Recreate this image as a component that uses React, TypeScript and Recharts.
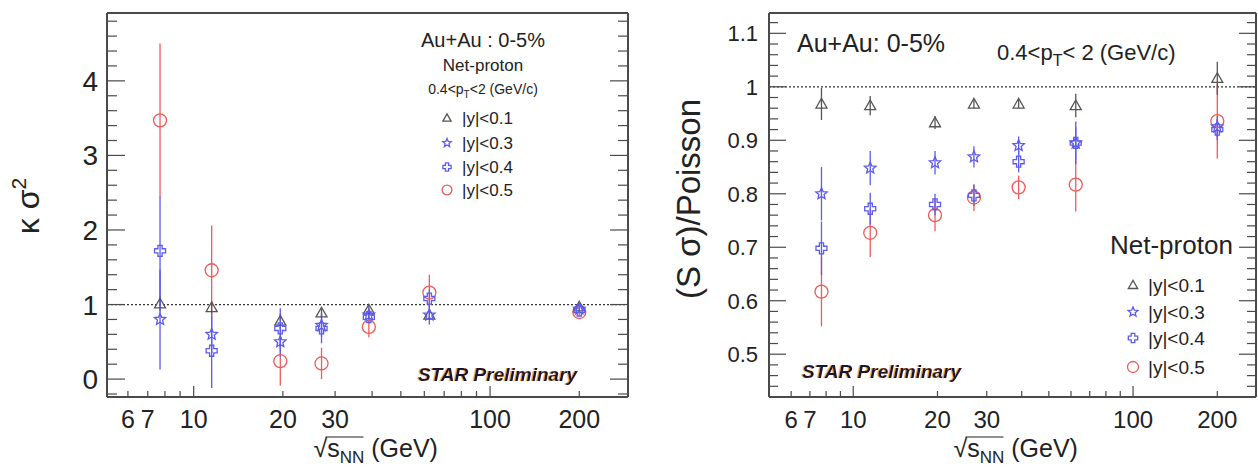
import React from "react";
import { ScatterChart, Scatter, XAxis, YAxis, ErrorBar, ReferenceLine } from "recharts";

const FONT = "'Liberation Sans', Arial, Helvetica, sans-serif";
const AXIS_COLOR = "#4a4a4a";
const TEXT_COLOR = "#222";
const GRAY = "#555";
const BLUE = "#5b5bf0";
const RED = "#f05a5a";

// collision energies, sqrt(s_NN) in GeV
const energies = [7.7, 11.5, 19.6, 27, 39, 62.4, 200];
const rapidityCuts = ["|y|<0.1", "|y|<0.3", "|y|<0.4", "|y|<0.5"];

// kappa*sigma^2 of net-proton, Au+Au 0-5%
const kappaY01 = [1.01, 0.96, 0.78, 0.89, 0.93, 0.86, 0.97];
const kappaY01Err = [0.1, 0.08, 0.1, 0.05, 0.05, 0.06, 0.03];
const kappaY03 = [0.8, 0.6, 0.5, 0.72, 0.86, 0.86, 0.94];
const kappaY03Err = [0.67, 0.25, 0.2, 0.15, 0.06, 0.13, 0.04];
const kappaY04 = [1.72, 0.38, 0.68, 0.68, 0.83, 1.08, 0.92];
const kappaY04Err = [0.73, 0.5, 0.27, 0.2, 0.08, 0.12, 0.04];
const kappaY05 = [3.47, 1.46, 0.24, 0.21, 0.7, 1.16, 0.9];
const kappaY05Err = [1.03, 0.6, 0.33, 0.21, 0.14, 0.24, 0.05];

// S*sigma normalised to the Poisson baseline
const ssY01 = [0.968, 0.965, 0.933, 0.968, 0.968, 0.965, 1.016];
const ssY01Err = [0.03, 0.018, 0.012, 0.008, 0.008, 0.022, 0.031];
const ssY03 = [0.8, 0.848, 0.858, 0.869, 0.89, 0.895, 0.925];
const ssY03Err = [0.05, 0.032, 0.022, 0.02, 0.017, 0.04, 0.02];
const ssY04 = [0.698, 0.772, 0.78, 0.797, 0.86, 0.895, 0.92];
const ssY04Err = [0.05, 0.03, 0.02, 0.02, 0.02, 0.03, 0.02];
const ssY05 = [0.617, 0.727, 0.76, 0.793, 0.812, 0.817, 0.936];
const ssY05Err = [0.065, 0.045, 0.03, 0.025, 0.022, 0.05, 0.07];

// axis ticks
const xTicks = [6, 7, 8, 9, 10, 20, 30, 40, 50, 60, 70, 80, 90, 100, 200];
const xLabels = [6, 7, 10, 20, 30, 100, 200];
const kappaLabels = [0, 1, 2, 3, 4];
const poissonLabels = [0.5, 0.6, 0.7, 0.8, 0.9, 1, 1.1];

function steps(from: number, to: number, step: number): number[] {
  const out: number[] = [];
  for (let v = from; v <= to + 1e-9; v += step) out.push(Math.round(v * 1000) / 1000);
  return out;
}
const kappaTicks = steps(-0.2, 4.8, 0.2);
const poissonTicks = steps(0.44, 1.12, 0.02);

const rows = (ys: number[], errs: number[]) =>
  energies.map((x, i) => ({ x, y: ys[i], err: errs[i] }));

type Kind = "triangle" | "star" | "cross" | "circle";
const kinds: Kind[] = ["triangle", "star", "cross", "circle"];
const colors = [GRAY, BLUE, BLUE, RED];
const markerSize: Record<Kind, number> = { triangle: 11, star: 12, cross: 11, circle: 13 };

function Marker({ kind, cx, cy, color, size }: { kind: Kind; cx: number; cy: number; color: string; size: number }) {
  const r = size / 2;
  const common = { fill: "none", stroke: color, strokeWidth: 1.3 };
  if (kind === "circle") return <circle cx={cx} cy={cy} r={r} {...common} />;
  if (kind === "triangle") {
    return <polygon points={`${cx},${cy - r} ${cx + r},${cy + r * 0.75} ${cx - r},${cy + r * 0.75}`} {...common} />;
  }
  if (kind === "star") {
    const pts: string[] = [];
    for (let i = 0; i < 10; i++) {
      const a = -Math.PI / 2 + (i * Math.PI) / 5;
      const rr = i % 2 === 0 ? r : r * 0.45;
      pts.push(`${cx + rr * Math.cos(a)},${cy + rr * Math.sin(a)}`);
    }
    return <polygon points={pts.join(" ")} {...common} />;
  }
  const a = r * 0.38;
  const pts = [
    [-a, -r], [a, -r], [a, -a], [r, -a], [r, a], [a, a],
    [a, r], [-a, r], [-a, a], [-r, a], [-r, -a], [-a, -a],
  ].map(([dx, dy]) => `${cx + dx},${cy + dy}`);
  return <polygon points={pts.join(" ")} {...common} />;
}

// ROOT-style frame ticks: everything points into the plot
const tickStroke = { stroke: AXIS_COLOR, strokeWidth: 1.2 };

function bottomTick(fontSize: number) {
  return (p: any) => {
    const v = p.payload.value;
    const major = v === 10 || v === 100;
    return (
      <g>
        <line x1={p.x} x2={p.x} y1={p.y} y2={p.y - (major ? 11 : 6)} {...tickStroke} />
        {xLabels.includes(v) && (
          <text x={p.x} y={p.y + 31} textAnchor="middle" fontSize={fontSize} fontFamily={FONT} fill={TEXT_COLOR}>
            {v}
          </text>
        )}
      </g>
    );
  };
}

function topTick(p: any) {
  const v = p.payload.value;
  const major = v === 10 || v === 100;
  return <line x1={p.x} x2={p.x} y1={p.y} y2={p.y + (major ? 11 : 6)} {...tickStroke} />;
}

function leftTick(labels: number[], fontSize: number, gap: number, major: number, minor: number) {
  return (p: any) => {
    const v = p.payload.value;
    const isMajor = labels.includes(v);
    return (
      <g>
        <line x1={p.x} x2={p.x + (isMajor ? major : minor)} y1={p.y} y2={p.y} {...tickStroke} />
        {isMajor && (
          <text x={p.x - gap} y={p.y + fontSize * 0.36} textAnchor="end" fontSize={fontSize} fontFamily={FONT} fill={TEXT_COLOR}>
            {v}
          </text>
        )}
      </g>
    );
  };
}

function rightTick(labels: number[], major: number, minor: number) {
  return (p: any) => {
    const isMajor = labels.includes(p.payload.value);
    return <line x1={p.x} x2={p.x - (isMajor ? major : minor)} y1={p.y} y2={p.y} {...tickStroke} />;
  };
}

function EnergyTitle(props: any) {
  const vb = props.viewBox ?? { x: 0, y: 0, width: 0 };
  const x = vb.x + vb.width / 2 + props.dx;
  const y = vb.y + 60;
  return (
    <g fontFamily={FONT} fill={TEXT_COLOR}>
      <text x={x} y={y} fontSize={25}>
        √s<tspan fontSize={17} dy={6}>NN</tspan>
        <tspan dy={-6}> (GeV)</tspan>
      </text>
      <line x1={x + 12} x2={x + 50} y1={y - 20} y2={y - 20} stroke={TEXT_COLOR} strokeWidth={1.2} />
    </g>
  );
}

function VerticalTitle(props: any) {
  const vb = props.viewBox ?? { x: 0, y: 0, height: 0 };
  const x = props.baseX;
  const y = vb.y + vb.height / 2 + props.dy;
  return (
    <text
      x={x}
      y={y}
      transform={`rotate(-90 ${x} ${y})`}
      textAnchor="middle"
      fontSize={props.fontSize}
      fontFamily={FONT}
      fill={TEXT_COLOR}
    >
      {props.children}
    </text>
  );
}

const frameLine = { stroke: AXIS_COLOR, strokeWidth: 2 };

type Series = { name: string; kind: Kind; color: string; data: { x: number; y: number; err: number }[] };

function makeSeries(sets: [number[], number[]][]): Series[] {
  const list = sets.map(([ys, errs], i) => ({
    name: rapidityCuts[i],
    kind: kinds[i],
    color: colors[i],
    data: rows(ys, errs),
  }));
  // widest cut underneath, blue points on top
  return [list[3], list[0], list[1], list[2]];
}

const kappaSeries = makeSeries([
  [kappaY01, kappaY01Err],
  [kappaY03, kappaY03Err],
  [kappaY04, kappaY04Err],
  [kappaY05, kappaY05Err],
]);
const poissonSeries = makeSeries([
  [ssY01, ssY01Err],
  [ssY03, ssY03Err],
  [ssY04, ssY04Err],
  [ssY05, ssY05Err],
]);

function renderSeries(series: Series[]) {
  return series.map((s) => (
    <Scatter
      key={s.name}
      name={s.name}
      data={s.data}
      dataKey="y"
      isAnimationActive={false}
      shape={(p: any) => <Marker kind={s.kind} cx={p.cx} cy={p.cy} color={s.color} size={markerSize[s.kind]} />}
    >
      <ErrorBar dataKey="err" direction="y" width={0} stroke={s.color} strokeWidth={1.3} />
    </Scatter>
  ));
}

function KappaPanel() {
  const xDomain = [5.1, 292];
  return (
    <ScatterChart width={640} height={468} margin={{ top: 0, right: 0, bottom: 0, left: 0 }}>
      <XAxis
        dataKey="x"
        type="number"
        scale="log"
        domain={xDomain}
        allowDataOverflow
        ticks={xTicks}
        interval={0}
        tickSize={0}
        tickMargin={0}
        tickLine={false}
        tick={bottomTick(25)}
        axisLine={frameLine}
        height={71}
        label={(p: any) => <EnergyTitle {...p} dx={-54} />}
      />
      <XAxis
        xAxisId="top"
        orientation="top"
        type="number"
        scale="log"
        domain={xDomain}
        allowDataOverflow
        ticks={xTicks}
        interval={0}
        tickSize={0}
        tickMargin={0}
        tickLine={false}
        tick={topTick}
        axisLine={frameLine}
        height={13}
      />
      <YAxis
        dataKey="y"
        type="number"
        domain={[-0.24, 4.91]}
        allowDataOverflow
        ticks={kappaTicks}
        interval={0}
        tickSize={0}
        tickMargin={0}
        tickLine={false}
        tick={leftTick(kappaLabels, 28, 9, 18, 10)}
        axisLine={frameLine}
        width={107}
        label={(p: any) => (
          <VerticalTitle {...p} baseX={39} dy={1} fontSize={32}>
            κ σ<tspan fontSize={21} dy={-13}>2</tspan>
          </VerticalTitle>
        )}
      />
      <YAxis
        yAxisId="right"
        orientation="right"
        type="number"
        domain={[-0.24, 4.91]}
        allowDataOverflow
        ticks={kappaTicks}
        interval={0}
        tickSize={0}
        tickMargin={0}
        tickLine={false}
        tick={rightTick(kappaLabels, 18, 10)}
        axisLine={frameLine}
        width={12}
      />
      <ReferenceLine y={1} stroke="#333" strokeWidth={1.3} strokeDasharray="2 2" />
      {renderSeries(kappaSeries)}
    </ScatterChart>
  );
}

function PoissonPanel() {
  const xDomain = [5.0, 275];
  return (
    <ScatterChart width={618} height={468} margin={{ top: 0, right: 0, bottom: 0, left: 0 }}>
      <XAxis
        dataKey="x"
        type="number"
        scale="log"
        domain={xDomain}
        allowDataOverflow
        ticks={xTicks}
        interval={0}
        tickSize={0}
        tickMargin={0}
        tickLine={false}
        tick={bottomTick(24)}
        axisLine={frameLine}
        height={71}
        label={(p: any) => <EnergyTitle {...p} dx={-59} />}
      />
      <XAxis
        xAxisId="top"
        orientation="top"
        type="number"
        scale="log"
        domain={xDomain}
        allowDataOverflow
        ticks={xTicks}
        interval={0}
        tickSize={0}
        tickMargin={0}
        tickLine={false}
        tick={topTick}
        axisLine={frameLine}
        height={13}
      />
      <YAxis
        dataKey="y"
        type="number"
        domain={[0.42, 1.138]}
        allowDataOverflow
        ticks={poissonTicks}
        interval={0}
        tickSize={0}
        tickMargin={0}
        tickLine={false}
        tick={leftTick(poissonLabels, 22, 11, 17, 9)}
        axisLine={frameLine}
        width={129}
        label={(p: any) => (
          <VerticalTitle {...p} baseX={60} dy={-6} fontSize={33}>
            (S σ)/Poisson
          </VerticalTitle>
        )}
      />
      <YAxis
        yAxisId="right"
        orientation="right"
        type="number"
        domain={[0.42, 1.138]}
        allowDataOverflow
        ticks={poissonTicks}
        interval={0}
        tickSize={0}
        tickMargin={0}
        tickLine={false}
        tick={rightTick(poissonLabels, 17, 9)}
        axisLine={frameLine}
        width={2}
      />
      <ReferenceLine y={1} stroke="#333" strokeWidth={1.3} strokeDasharray="2 2" />
      {renderSeries(poissonSeries)}
    </ScatterChart>
  );
}

function LegendRows({ x, textX, ys, fontSize, scale }: { x: number; textX: number; ys: number[]; fontSize: number; scale: number }) {
  return (
    <g>
      {rapidityCuts.map((name, i) => (
        <g key={name}>
          <Marker kind={kinds[i]} cx={x} cy={ys[i]} color={colors[i]} size={markerSize[kinds[i]] * scale} />
          <text x={textX} y={ys[i] + fontSize * 0.36} fontSize={fontSize}>
            {name}
          </text>
        </g>
      ))}
    </g>
  );
}

function StarPreliminary({ x, y }: { x: number; y: number }) {
  return (
    <text x={x} y={y} fontSize={19} fontWeight="bold" fontStyle="italic" fill="#16163a" filter="url(#starFringe)">
      STAR Preliminary
    </text>
  );
}

function Annotations() {
  return (
    <svg
      width={1258}
      height={468}
      style={{ position: "absolute", left: 0, top: 0, pointerEvents: "none" }}
      fontFamily={FONT}
      fill={TEXT_COLOR}
    >
      <defs>
        <filter id="starFringe" x="-5%" y="-20%" width="110%" height="140%">
          <feDropShadow dx={-1.2} dy={0} stdDeviation={0.5} floodColor="#f0a030" />
        </filter>
      </defs>

      {/* left panel */}
      <text x={483} y={47} fontSize={20} textAnchor="middle">Au+Au : 0-5%</text>
      <text x={483} y={71} fontSize={17} textAnchor="middle">Net-proton</text>
      <text x={483} y={94} fontSize={14} textAnchor="middle">
        0.4&lt;p<tspan fontSize={10} dy={4}>T</tspan><tspan dy={-4}>&lt;2 (GeV/c)</tspan>
      </text>
      <LegendRows x={447} textX={462} ys={[118, 143, 167, 190]} fontSize={17} scale={0.75} />
      <StarPreliminary x={418} y={381} />

      {/* right panel */}
      <text x={797} y={52} fontSize={25}>Au+Au: 0-5%</text>
      <text x={997} y={60} fontSize={22}>
        0.4&lt;p<tspan fontSize={16} dy={6}>T</tspan><tspan dy={-6}>&lt; 2 (GeV/c)</tspan>
      </text>
      <text x={1110} y={254} fontSize={26}>Net-proton</text>
      <LegendRows x={1133} textX={1148} ys={[285, 312, 338, 367]} fontSize={19} scale={0.85} />
      <StarPreliminary x={802} y={378} />
    </svg>
  );
}

export default function App() {
  return (
    <div style={{ position: "absolute", left: 0, top: 0, width: 1258, height: 468, background: "#fff", fontFamily: FONT }}>
      <div style={{ position: "absolute", left: 0, top: 0 }}>
        <KappaPanel />
      </div>
      <div style={{ position: "absolute", left: 640, top: 0 }}>
        <PoissonPanel />
      </div>
      <Annotations />
    </div>
  );
}
